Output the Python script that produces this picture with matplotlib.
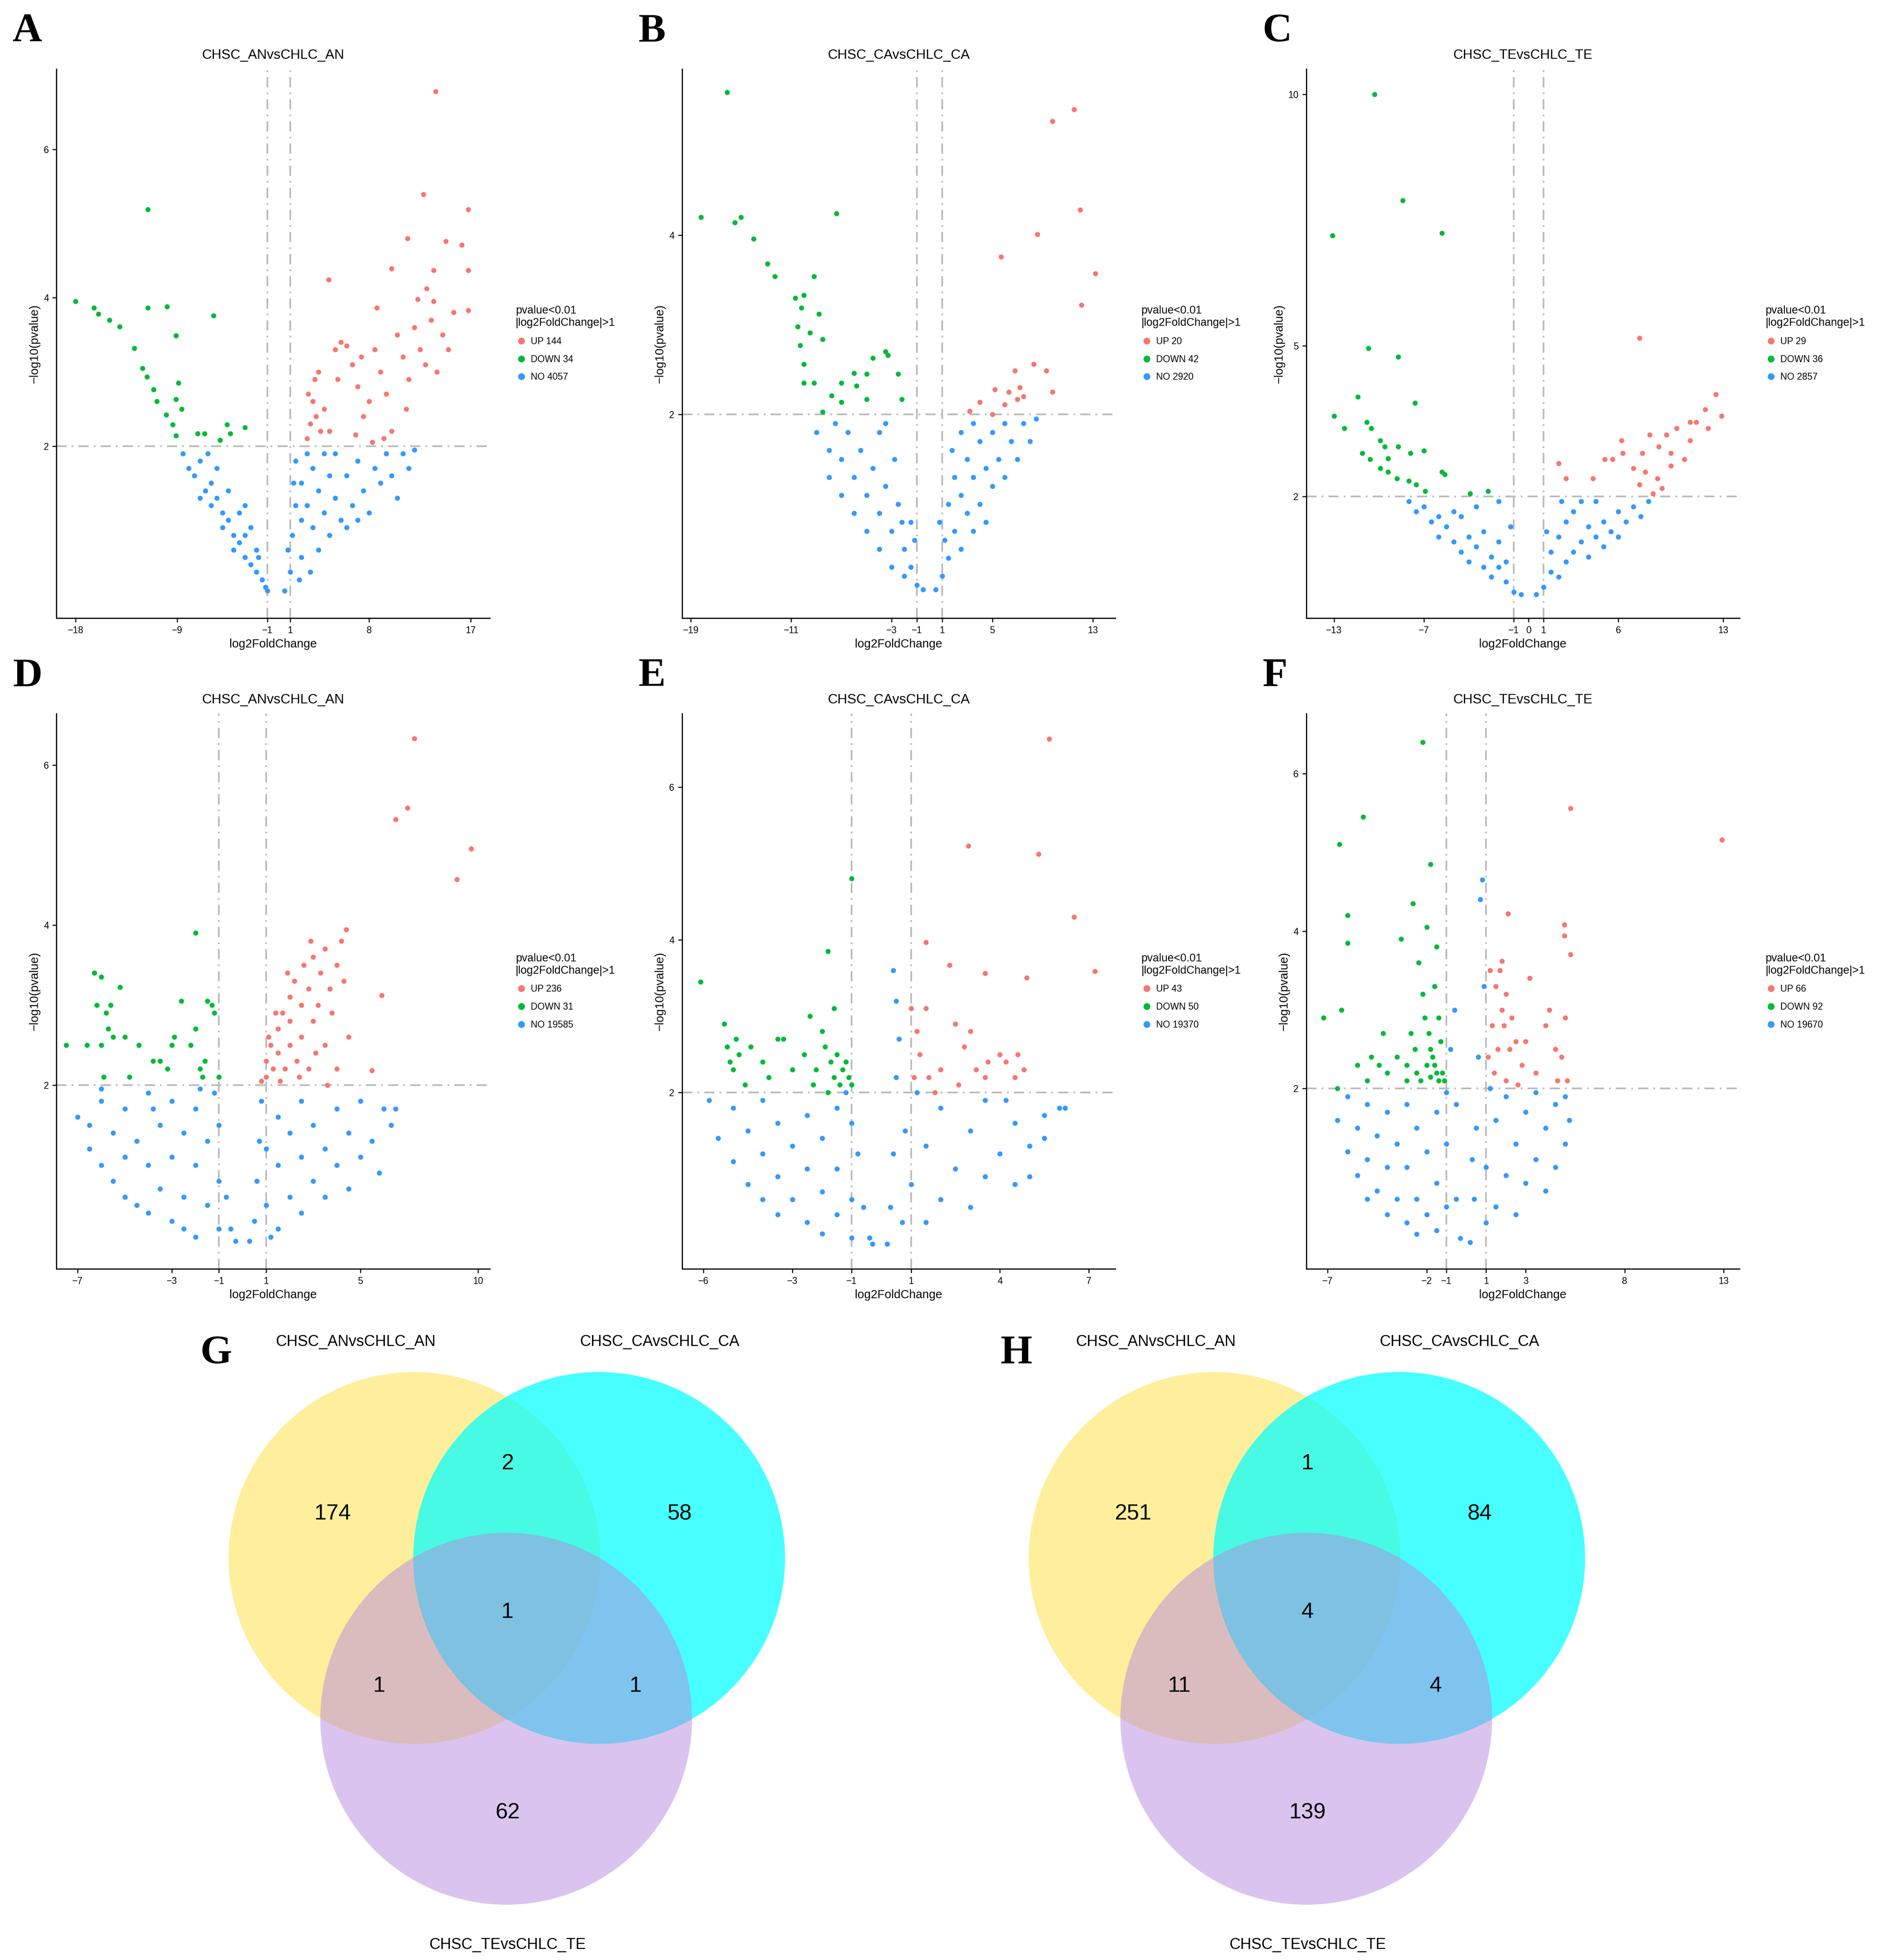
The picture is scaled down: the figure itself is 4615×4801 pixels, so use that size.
import matplotlib.pyplot as plt
from matplotlib.patches import Circle
from matplotlib.lines import Line2D

plt.rcParams['font.family'] = ['Liberation Sans', 'DejaVu Sans']

RED = '#F8766D'
GREEN = '#00BA38'
BLUE = '#3399FF'

titles = ['CHSC_ANvsCHLC_AN', 'CHSC_CAvsCHLC_CA', 'CHSC_TEvsCHLC_TE',
          'CHSC_ANvsCHLC_AN', 'CHSC_CAvsCHLC_CA', 'CHSC_TEvsCHLC_TE']
letters = ['A', 'B', 'C', 'D', 'E', 'F']
counts = [(144, 34, 4057), (20, 42, 2920), (29, 36, 2857),
          (236, 31, 19585), (43, 50, 19370), (66, 92, 19670)]
xticks = [[-18, -9, -1, 1, 8, 17], [-19, -11, -3, -1, 1, 5, 13], [-13, -7, -1, 0, 1, 6, 13],
          [-7, -3, -1, 1, 5, 10], [-6, -3, -1, 1, 4, 7], [-7, -2, -1, 1, 3, 8, 13]]
yticks = [[2, 4, 6], [2, 4], [2, 5, 10], [2, 4, 6], [2, 4, 6], [2, 4, 6]]
xlims = [(-19.7, 18.7), (-19.7, 14.8), (-14.85, 14.1), (-7.9, 10.5), (-6.72, 7.89), (-8.08, 13.8)]
ylims = [(-0.32, 7.08), (-0.27, 5.85), (-0.42, 10.5), (-0.3, 6.64), (-0.31, 6.96), (-0.29, 6.76)]

# ---- panel A
a_up = [(13.9, 6.78), (12.8, 5.39), (16.8, 5.19), (11.4, 4.8), (14.8, 4.76), (16.2, 4.71), (4.4, 4.24),
        (10, 4.39), (13.7, 4.37), (16.8, 4.37), (13.1, 4.12), (12.3, 3.98), (13.7, 3.95), (16.8, 3.83),
        (8.7, 3.86), (2.5, 2.1), (2.8, 2.3), (3, 2.6), (3.2, 2.9), (3.5, 3.0), (4, 2.5), (4.5, 2.2),
        (5, 3.3), (5.5, 3.4), (6, 3.35), (6.5, 3.1), (7, 2.8), (7.5, 2.4), (8, 2.6), (8.5, 3.3), (9, 3.0),
        (9.5, 2.7), (10, 2.2), (10.5, 3.5), (11, 3.2), (11.5, 2.9), (12, 3.6), (12.5, 3.3), (13, 3.1),
        (13.5, 3.7), (14, 3.0), (14.5, 3.5), (15, 3.3), (15.5, 3.8), (9.3, 2.1), (8.3, 2.05), (6.8, 2.15),
        (3.3, 2.4), (2.6, 2.7), (3.7, 2.2), (5.2, 2.9), (7.3, 3.2), (11.3, 2.5)]
a_down = [(-18, 3.95), (-16.4, 3.86), (-16, 3.78), (-15, 3.7), (-14.1, 3.61), (-11.6, 5.19), (-11.6, 3.86),
          (-9.9, 3.88), (-9.1, 3.49), (-5.8, 3.76), (-12.8, 3.32), (-12.1, 3.05), (-11.7, 2.93), (-11.1, 2.76),
          (-10.8, 2.6), (-10, 2.42), (-9.1, 2.63), (-8.6, 2.5), (-9.1, 2.14), (-7.2, 2.17), (-6.6, 2.17),
          (-5.2, 2.08), (-4.6, 2.29), (-4.3, 2.17), (-3, 2.25), (-9.4, 2.29), (-8.9, 2.85)]
a_no = [(-8.5, 1.9), (-8, 1.7), (-7.5, 1.6), (-7, 1.8), (-6.5, 1.4), (-6, 1.5), (-6, 1.2), (-5.5, 1.3),
        (-5, 1.1), (-5, 0.9), (-4.5, 1.0), (-4, 0.8), (-4, 0.6), (-3.5, 0.7), (-3, 0.5), (-3, 0.8),
        (-2.5, 0.4), (-2, 0.3), (-2, 0.6), (-1.5, 0.2), (-1.2, 0.1), (-7, 1.3), (-3.5, 1.1), (-4.5, 1.4),
        (-5.5, 1.7), (-2.5, 0.9), (-3, 1.2), (-6.3, 1.9), (-1.8, 0.5), (-1, 0.05), (0.5, 0.05), (1, 0.3),
        (1.2, 0.8), (1.5, 1.2), (1.5, 1.8), (2, 1.5), (2, 1.0), (2, 0.5), (2.5, 1.9), (2.5, 1.2), (3, 1.7),
        (3, 0.9), (3.5, 1.4), (4, 1.9), (4, 1.1), (4.5, 1.6), (5, 1.3), (5, 1.9), (5.5, 1.0), (6, 1.6),
        (6.5, 1.2), (7, 1.8), (7.5, 1.4), (8, 1.1), (8.5, 1.7), (9, 1.5), (9.5, 1.9), (10, 1.6), (10.5, 1.3),
        (11, 1.9), (11.5, 1.7), (12, 1.95), (3.5, 0.6), (1.8, 0.2), (0.8, 0.6), (6, 0.9), (4.5, 0.8),
        (7, 1.0), (1.3, 1.5), (2.8, 0.3)]

# ---- panel B
b_up = [(11.5, 5.4), (9.8, 5.27), (12, 4.28), (8.6, 4.01), (13.2, 3.57), (12.1, 3.22), (5.7, 3.76),
        (8.3, 2.56), (6.8, 2.49), (9.3, 2.49), (5.2, 2.28), (6.3, 2.25), (7, 2.17), (7.5, 2.2), (3.2, 2.04),
        (5, 2.0), (9.8, 2.25), (7.2, 2.3), (4, 2.14), (6, 2.11)]
b_down = [(-16.1, 5.59), (-18.2, 4.2), (-15.5, 4.14), (-15, 4.2), (-14, 3.96), (-12.9, 3.68), (-12.3, 3.54),
          (-7.4, 4.24), (-9.2, 3.54), (-10.7, 3.3), (-10, 3.33), (-10.2, 3.19), (-8.8, 3.12), (-10.5, 2.98),
          (-9.5, 2.91), (-8.5, 2.84), (-10.3, 2.77), (-3.5, 2.7), (-4.5, 2.63), (-3.3, 2.66), (-6, 2.46),
          (-5, 2.45), (-2.5, 2.45), (-7, 2.35), (-5.8, 2.32), (-10, 2.56), (-9.2, 2.35), (-7.8, 2.21),
          (-7, 2.14), (-5, 2.17), (-2.2, 2.17), (-8.5, 2.03), (-10, 2.35)]
b_no = [(-9, 1.8), (-8, 1.6), (-8, 1.3), (-7, 1.5), (-7, 1.1), (-6.5, 1.8), (-6, 1.3), (-6, 0.9),
        (-5.5, 1.6), (-5, 1.1), (-5, 0.7), (-4.5, 1.4), (-4, 0.9), (-4, 0.5), (-3.5, 1.2), (-3, 0.7),
        (-3, 0.3), (-2.5, 1.0), (-2, 0.5), (-2, 0.2), (-1.5, 0.8), (-1.5, 0.3), (-1, 0.1), (-0.5, 0.05),
        (-3.5, 1.9), (-2.8, 1.5), (-4, 1.8), (-2.2, 0.8), (-1.2, 0.6), (-7.5, 1.9), (0.5, 0.05), (1, 0.2),
        (1.2, 0.6), (1.5, 0.4), (1.5, 1.0), (2, 0.7), (2, 1.3), (2.5, 0.5), (2.5, 1.1), (3, 0.9), (3, 1.5),
        (3.5, 0.7), (3.5, 1.3), (4, 1.0), (4, 1.7), (4.5, 1.4), (5, 1.2), (5, 1.8), (5.5, 1.5), (6, 1.3),
        (6.5, 1.7), (7, 1.5), (7.5, 1.9), (8, 1.7), (8.5, 1.95), (2.5, 1.8), (3.5, 1.9), (1.8, 1.6),
        (4.5, 0.8), (6, 1.9), (0.8, 0.8)]

# ---- panel C
c_up = [(7.4, 5.15), (12.5, 4.03), (11.8, 3.73), (12.9, 3.6), (11.2, 3.48), (9.9, 3.36), (9.2, 3.23),
        (8.1, 3.23), (6.2, 3.11), (10.8, 3.11), (8.7, 2.99), (5.1, 2.74), (5.6, 2.74), (7.6, 2.86),
        (9.5, 2.86), (10.4, 2.74), (7.8, 2.49), (7, 2.56), (8.6, 2.36), (8.9, 2.16), (2, 2.66), (2.5, 2.36),
        (9.5, 2.61), (8.3, 2.06), (7.4, 2.24), (6.3, 2.86), (10.8, 3.48), (12, 3.36), (4.3, 2.36)]
c_down = [(-10.3, 10), (-8.4, 7.89), (-13.1, 7.19), (-5.8, 7.24), (-10.7, 4.95), (-8.7, 4.78), (-11.4, 3.98),
          (-7.6, 3.86), (-13, 3.6), (-12.3, 3.36), (-10.8, 3.48), (-10.5, 3.36), (-9.9, 3.11), (-9.6, 2.99),
          (-8.7, 2.99), (-7.9, 2.86), (-7, 2.91), (-11.1, 2.86), (-10.6, 2.74), (-9.9, 2.56), (-9.4, 2.49),
          (-8.8, 2.36), (-8, 2.31), (-7.5, 2.24), (-6.9, 2.11), (-5.8, 2.49), (-5.6, 2.44), (-3.9, 2.06),
          (-2.7, 2.11), (-9.4, 2.76)]
c_no = [(-8, 1.9), (-7.5, 1.7), (-7, 1.8), (-6.5, 1.5), (-6, 1.6), (-6, 1.2), (-5.5, 1.4), (-5, 1.1),
        (-5, 1.7), (-4.5, 0.9), (-4, 1.2), (-4, 0.7), (-3.5, 1.0), (-3, 0.6), (-3, 1.3), (-2.5, 0.8),
        (-2.5, 0.4), (-2, 0.6), (-2, 1.1), (-1.5, 0.3), (-1.5, 0.7), (-1, 0.1), (-0.5, 0.05), (-3.5, 1.8),
        (-4.5, 1.6), (-2, 1.9), (-1.2, 1.4), (0.5, 0.05), (1, 0.2), (1.5, 0.5), (1.5, 0.9), (2, 0.4),
        (2, 1.2), (2.5, 0.7), (2.5, 1.5), (3, 0.9), (3, 1.7), (3.5, 1.1), (4, 0.8), (4, 1.4), (4.5, 1.2),
        (5, 1.5), (5, 1.0), (5.5, 1.3), (6, 1.7), (6, 1.2), (6.5, 1.5), (7, 1.8), (7.5, 1.6), (8, 1.9),
        (3.5, 1.9), (1.2, 1.3), (4.5, 1.9), (2.2, 1.9)]

# ---- panel D
d_up = [(7.3, 6.33), (7, 5.46), (6.5, 5.32), (9.7, 4.95), (9.1, 4.57), (4.4, 3.94), (5.9, 3.12), (5.5, 2.18),
        (1, 2.1), (1, 2.3), (1.2, 2.5), (1.3, 2.2), (1.5, 2.7), (1.5, 2.4), (1.7, 2.9), (1.8, 2.2), (2, 2.5),
        (2, 3.1), (2, 2.8), (2.2, 3.3), (2.3, 2.3), (2.5, 3.0), (2.5, 2.6), (2.6, 3.5), (2.8, 3.2), (2.8, 2.2),
        (3, 3.6), (3, 2.8), (3.2, 3.0), (3.3, 3.4), (3.5, 3.7), (3.5, 2.5), (3.7, 3.2), (3.8, 2.9), (4, 3.5),
        (4, 2.2), (4.2, 3.8), (4.3, 3.3), (1.1, 2.6), (1.4, 2.9), (1.6, 2.05), (2.4, 2.1), (3.1, 2.4),
        (0.8, 2.05), (4.5, 2.6), (3.6, 2.0), (2.9, 3.8), (1.9, 3.4)]
d_down = [(-7.5, 2.5), (-6.3, 3.4), (-6, 3.35), (-5.6, 3.0), (-5.2, 3.22), (-6.2, 3.0), (-5.8, 2.9),
          (-5.7, 2.7), (-6, 2.5), (-5.5, 2.6), (-5, 2.6), (-5.9, 2.1), (-4.8, 2.1), (-3.8, 2.3), (-3.5, 2.3),
          (-2.6, 3.05), (-2.2, 2.5), (-3, 2.5), (-2, 3.9), (-1.8, 2.2), (-1.6, 2.3), (-1.7, 2.1), (-1.3, 3.0),
          (-1.2, 2.9), (-1, 2.1), (-2.9, 2.6), (-2, 2.7), (-1.5, 3.05), (-3.2, 2.2), (-4.4, 2.5), (-6.6, 2.5)]
d_no = [(-7, 1.6), (-6.5, 1.5), (-6.5, 1.2), (-6, 1.8), (-6, 1.0), (-5.5, 1.4), (-5.5, 0.8), (-5, 1.7),
        (-5, 1.1), (-5, 0.6), (-4.5, 1.3), (-4.5, 0.5), (-4, 1.9), (-4, 1.0), (-4, 0.4), (-3.5, 1.5),
        (-3.5, 0.7), (-3, 1.8), (-3, 1.1), (-3, 0.3), (-2.5, 1.4), (-2.5, 0.6), (-2.5, 0.2), (-2, 1.7),
        (-2, 1.0), (-2, 0.1), (-1.5, 1.3), (-1.5, 0.5), (-1, 1.5), (-1, 0.8), (-1, 0.2), (-0.7, 0.6),
        (-0.5, 0.2), (-0.3, 0.05), (-6, 1.95), (-1.8, 1.95), (-1.2, 1.9), (-3.8, 1.7), (0.3, 0.05),
        (0.5, 0.3), (0.6, 0.8), (0.7, 1.3), (0.8, 1.8), (1, 0.5), (1, 1.2), (1.5, 0.2), (1.5, 1.0),
        (1.5, 1.6), (2, 0.6), (2, 1.4), (2.5, 0.4), (2.5, 1.1), (2.5, 1.8), (3, 0.8), (3, 1.5), (3.5, 0.6),
        (3.5, 1.2), (4, 1.0), (4, 1.7), (4.5, 0.7), (4.5, 1.4), (5, 1.1), (5, 1.8), (5.5, 1.3), (5.8, 0.9),
        (6, 1.7), (6.5, 1.7), (6.3, 1.5), (1.2, 0.1)]

# ---- panel E
e_up = [(5.66, 6.63), (2.94, 5.23), (5.3, 5.12), (6.5, 4.3), (7.2, 3.59), (1.5, 3.97), (3.5, 3.56),
        (4.9, 3.5), (2.3, 3.67), (1.0, 3.1), (1.2, 2.8), (1.5, 3.1), (1.3, 2.5), (1.6, 2.2), (2, 2.3),
        (1.8, 2.0), (2.5, 2.9), (2.8, 2.6), (3.2, 2.3), (3.5, 2.2), (4, 2.5), (4.2, 2.4), (4.6, 2.5),
        (4.5, 2.2), (4.8, 2.3), (3, 2.8), (2.6, 2.1), (1.1, 2.2), (3.6, 2.4)]
e_down = [(-6.1, 3.45), (-5.3, 2.9), (-5.2, 2.6), (-5.1, 2.4), (-4.9, 2.7), (-4.8, 2.5), (-5, 2.3),
          (-4.6, 2.1), (-4.4, 2.6), (-4, 2.4), (-3.8, 2.2), (-3.3, 2.7), (-3, 2.3), (-2.6, 2.5), (-2.4, 3.0),
          (-2.3, 2.1), (-2.0, 2.8), (-1.9, 2.6), (-1.8, 3.85), (-1.7, 2.4), (-1.6, 2.2), (-1.5, 2.5),
          (-1.4, 2.1), (-1.3, 2.3), (-1.2, 2.4), (-1.1, 2.2), (-1.0, 4.8), (-1.0, 2.1), (-1.6, 3.1),
          (-2.2, 2.3), (-1.8, 2.0), (-3.5, 2.7)]
e_no = [(-5.5, 1.4), (-5, 1.8), (-5, 1.1), (-4.5, 1.5), (-4.5, 0.8), (-4, 1.9), (-4, 1.2), (-4, 0.6),
        (-3.5, 1.6), (-3.5, 0.9), (-3.5, 0.4), (-3, 1.3), (-3, 0.6), (-2.5, 1.7), (-2.5, 1.0), (-2.5, 0.3),
        (-2, 1.4), (-2, 0.7), (-2, 0.15), (-1.5, 1.8), (-1.5, 1.0), (-1.5, 0.4), (-1, 1.6), (-1, 0.6),
        (-1, 0.1), (-0.8, 1.2), (-0.6, 0.5), (-0.4, 0.1), (-0.3, 0.02), (-5.8, 1.9), (-1.2, 2.0),
        (0.2, 0.02), (0.3, 0.5), (0.4, 1.2), (0.5, 2.2), (0.5, 3.2), (0.7, 0.3), (0.8, 1.5), (1, 0.8),
        (1.5, 0.3), (1.5, 1.3), (2, 0.6), (2, 1.8), (2.5, 1.0), (3, 0.5), (3, 1.5), (3.5, 0.9), (3.5, 1.9),
        (4, 1.2), (4.5, 0.8), (4.5, 1.6), (5, 1.3), (5, 0.9), (5.5, 1.7), (5.5, 1.4), (6, 1.8), (6.2, 1.8),
        (4.2, 1.9), (1.2, 2.0), (0.6, 2.7), (0.4, 3.6)]

# ---- panel F
f_up = [(5.27, 5.56), (12.9, 5.16), (2.1, 4.22), (4.95, 4.08), (4.95, 3.94), (5.27, 3.7), (1.8, 3.62),
        (1.2, 3.5), (1.5, 3.3), (1.8, 3.0), (2, 3.2), (2.3, 2.9), (2.5, 2.6), (1.3, 2.8), (1.6, 2.5),
        (1.4, 2.2), (2, 2.1), (2.8, 2.3), (3, 2.6), (3.5, 2.2), (4, 2.8), (4.2, 3.0), (4.5, 2.5), (4.8, 2.4),
        (5, 2.9), (5.1, 2.1), (3.2, 3.4), (2.6, 2.05), (1.1, 2.4), (4.6, 2.1), (2.2, 2.5), (1.7, 3.5),
        (1.9, 2.8)]
f_down = [(-6.4, 5.1), (-5.2, 5.45), (-6, 4.2), (-6, 3.85), (-7.2, 2.9), (-6.3, 3.0), (-4.8, 2.4),
          (-4.4, 2.3), (-4, 2.2), (-3.5, 2.4), (-3, 2.3), (-3.3, 3.9), (-2.7, 4.35), (-2.2, 6.4), (-2, 4.05),
          (-1.8, 4.85), (-2.4, 3.6), (-2.2, 3.2), (-2.1, 2.9), (-1.9, 2.7), (-1.8, 2.5), (-1.7, 2.4),
          (-1.6, 2.3), (-1.5, 2.2), (-1.4, 2.1), (-1.3, 2.6), (-1.2, 2.2), (-1.1, 2.1), (-2.5, 2.2),
          (-3, 2.1), (-5.5, 2.3), (-5, 2.1), (-6.5, 2.0), (-1.6, 3.3), (-2.8, 2.7), (-1.4, 2.9), (-2.0, 2.3),
          (-1.5, 3.8), (-2.6, 2.5), (-1.8, 2.15), (-4.2, 2.7), (-2.3, 2.1)]
f_no = [(-6.5, 1.6), (-6, 1.9), (-6, 1.2), (-5.5, 1.5), (-5.5, 0.9), (-5, 1.8), (-5, 1.1), (-5, 0.6),
        (-4.5, 1.4), (-4.5, 0.7), (-4, 1.7), (-4, 1.0), (-4, 0.4), (-3.5, 1.3), (-3.5, 0.6), (-3, 1.8),
        (-3, 1.0), (-3, 0.3), (-2.5, 1.5), (-2.5, 0.6), (-2.5, 0.15), (-2, 1.2), (-2, 0.4), (-1.5, 1.7),
        (-1.5, 0.8), (-1.5, 0.2), (-1, 1.3), (-1, 0.5), (-0.5, 1.8), (-0.5, 0.6), (-0.3, 0.1), (-0.8, 2.5),
        (-0.6, 3.0), (-1.0, 1.95), (0.2, 0.05), (0.4, 0.6), (0.5, 1.5), (0.6, 2.4), (0.8, 4.65), (0.7, 4.4),
        (0.9, 3.3), (1, 0.3), (1, 1.0), (1.5, 0.5), (1.5, 1.6), (2, 0.9), (2, 1.9), (2.5, 0.4), (2.5, 1.3),
        (3, 0.8), (3, 1.7), (3.5, 1.1), (4, 0.7), (4, 1.5), (4.5, 1.0), (4.5, 1.8), (5, 1.3), (5, 1.9),
        (5.2, 1.6), (3.5, 1.95), (1.2, 2.0), (0.3, 1.1)]

ups = [a_up, b_up, c_up, d_up, e_up, f_up]
downs = [a_down, b_down, c_down, d_down, e_down, f_down]
nos = [a_no, b_no, c_no, d_no, e_no, f_no]

# venn data
venn_sets = ['CHSC_ANvsCHLC_AN', 'CHSC_CAvsCHLC_CA', 'CHSC_TEvsCHLC_TE']
# order: A only, A&B, B only, A&B&C, A&C, B&C, C only
g_counts = [174, 2, 58, 1, 1, 1, 62]
h_counts = [251, 1, 84, 4, 11, 4, 139]

fig = plt.figure(figsize=(4615 / 300, 4801 / 300), dpi=300)
W, H = 1500.0, 1560.0
lefts = [45, 543, 1040]
tops = [55, 568]
bottoms = [492, 1010]

for k in range(6):
    r, c = divmod(k, 3)
    x0 = lefts[c]
    ax = fig.add_axes([x0 / W, 1 - bottoms[r] / H, 345 / W, (bottoms[r] - tops[r]) / H])
    for pts, col in [(nos[k], BLUE), (ups[k], RED), (downs[k], GREEN)]:
        ax.scatter([p[0] for p in pts], [p[1] for p in pts], s=9, color=col, linewidths=0, zorder=2)
    for xv in (-1, 1):
        ax.axvline(xv, color='#BBBBBB', lw=1.0, ls=(0, (6, 3, 1, 3)), zorder=1)
    ax.axhline(2, color='#BBBBBB', lw=1.0, ls=(0, (6, 3, 1, 3)), zorder=1)
    ax.set_xlim(xlims[k])
    ax.set_ylim(ylims[k])
    ax.set_xticks(xticks[k])
    ax.set_yticks(yticks[k])
    ax.tick_params(labelsize=5.5, length=2.5, width=0.6, pad=2)
    for s in ['top', 'right']:
        ax.spines[s].set_visible(False)
    for s in ['left', 'bottom']:
        ax.spines[s].set_linewidth(0.7)
    ax.set_xlabel('log2FoldChange', fontsize=7, labelpad=2)
    ax.set_ylabel('\u2212log10(pvalue)', fontsize=7, labelpad=2)
    ax.set_title(titles[k], fontsize=8, pad=6)
    up_n, down_n, no_n = counts[k]
    handles = [Line2D([], [], marker='o', ls='', color=RED, markersize=3, label=f'UP {up_n}'),
               Line2D([], [], marker='o', ls='', color=GREEN, markersize=3, label=f'DOWN {down_n}'),
               Line2D([], [], marker='o', ls='', color=BLUE, markersize=3, label=f'NO {no_n}')]
    leg = ax.legend(handles=handles, loc='center left', bbox_to_anchor=(1.04, 0.5), frameon=False,
                    title='pvalue<0.01\n|log2FoldChange|>1', fontsize=5.5, title_fontsize=6.5,
                    alignment='left', handletextpad=0.4, labelspacing=0.9, handlelength=1.2)
    fig.text((x0 - 35) / W, 1 - (tops[r] - 30) / H, letters[k], fontsize=24, fontweight='bold',
             family='Liberation Serif', va='center', ha='left')

# venn diagrams in an overlay using reference pixel coordinates
vax = fig.add_axes([0, 0, 1, 1])
vax.set_xlim(0, W)
vax.set_ylim(H, 0)
vax.axis('off')
vax.set_zorder(-1)

for off, vals, letter in [(0, g_counts, 'G'), (637, h_counts, 'H')]:
    ca = (330 + off, 1240)
    cb = (477 + off, 1240)
    cc = (403 + off, 1368)
    rad = 148
    vax.add_patch(Circle(ca, rad, facecolor='#FFE03A', alpha=0.5, lw=0))
    vax.add_patch(Circle(cb, rad, facecolor='#00FFFF', alpha=0.72, lw=0))
    vax.add_patch(Circle(cc, rad, facecolor='#B68AE0', alpha=0.5, lw=0))
    pos = [(265, 1205), (404, 1165), (541, 1205), (404, 1283), (302, 1342), (506, 1342), (404, 1443)]
    for (px, py), v in zip(pos, vals):
        vax.text(px + off, py, str(v), fontsize=13, ha='center', va='center')
    vax.text(283 + off, 1068, venn_sets[0], fontsize=9, ha='center', va='center')
    vax.text(525 + off, 1068, venn_sets[1], fontsize=9, ha='center', va='center')
    vax.text(404 + off, 1548, venn_sets[2], fontsize=9, ha='center', va='center')
    vax.text(172 + off, 1077, letter, fontsize=24, fontweight='bold', family='Liberation Serif',
             ha='center', va='center')

fig.savefig('out.png', dpi=300)
